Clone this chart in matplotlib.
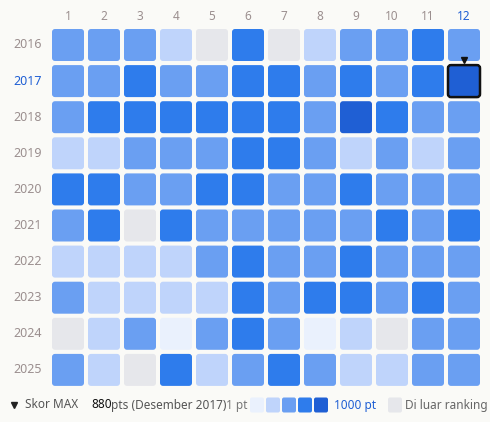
import matplotlib.pyplot as plt
from matplotlib.patches import FancyBboxPatch

plt.rcParams['font.family'] = ['Source Sans Pro', 'Noto Sans', 'DejaVu Sans']

years = [2016, 2017, 2018, 2019, 2020, 2021, 2022, 2023, 2024, 2025]
months = list(range(1, 13))
# level 0 = di luar ranking, 1..5 = skor bins
levels = [
    [3, 3, 3, 2, 0, 4, 0, 2, 3, 3, 4, 3],
    [3, 3, 4, 3, 3, 4, 4, 3, 4, 3, 4, 5],
    [3, 4, 4, 4, 4, 4, 4, 3, 5, 4, 3, 3],
    [2, 2, 3, 3, 3, 4, 4, 3, 2, 3, 2, 3],
    [4, 4, 3, 3, 4, 4, 3, 3, 4, 3, 3, 3],
    [3, 4, 0, 4, 3, 3, 3, 3, 3, 4, 3, 4],
    [2, 2, 2, 2, 3, 4, 3, 3, 4, 3, 3, 3],
    [3, 2, 2, 2, 2, 4, 3, 4, 4, 3, 4, 3],
    [0, 2, 3, 1, 3, 4, 3, 1, 2, 0, 3, 3],
    [3, 2, 0, 4, 2, 3, 4, 3, 2, 2, 3, 3],
]
max_year, max_month = 2017, 12
palette = ['#e6e7eb', '#eaf1fd', '#bfd4fb', '#6a9ff2', '#2e7cec', '#1f5fd4']

bg = '#fafaf7'
fig = plt.figure(figsize=(4.9, 4.22), dpi=100, facecolor=bg)
ax = fig.add_axes([0, 0, 1, 1])
ax.set_xlim(0, 490)
ax.set_ylim(422, 0)
ax.axis('off')

x0, y0, pitch, size = 68, 45, 36, 32
for i, yr in enumerate(years):
    cy = y0 + i * 36.1
    hl = yr == max_year
    ax.text(42, cy, str(yr), ha='right', va='center', fontsize=9,
            color='#1f5fd4' if hl else '#9b8f8f', fontweight='bold' if hl else 'normal')
    for j, m in enumerate(months):
        cx = x0 + j * pitch
        lw, ec = 0, 'none'
        if yr == max_year and m == max_month:
            lw, ec = 1.8, '#111111'
        ax.add_patch(FancyBboxPatch((cx - size / 2 + 3, cy - size / 2 + 3), size - 6, size - 6,
                                    boxstyle='round,pad=3', fc=palette[levels[i][j]],
                                    ec=ec, lw=lw))
for j, m in enumerate(months):
    hl = m == max_month
    ax.text(x0 + j * pitch, 17, str(m), ha='center', va='center', fontsize=8.5,
            color='#1f5fd4' if hl else '#9b8f8f', fontweight='bold' if hl else 'normal')

# marker above max cell
mx = x0 + (max_month - 1) * pitch
ax.plot(mx, 60, marker='v', color='#111111', ms=5)

# legend
ly = 405
ax.plot(14, ly, marker='v', color='#222222', ms=4.5)
ax.text(25, ly, 'Skor MAX ', ha='left', va='center', fontsize=8.5, color='#555555')
ax.text(91, ly, '880', ha='left', va='center', fontsize=8.5, color='#111111', fontweight='bold')
ax.text(111, ly, 'pts (Desember 2017)', ha='left', va='center', fontsize=8.5, color='#555555')
ax.text(226, ly, '1 pt', ha='left', va='center', fontsize=8.5, color='#777777')
for k in range(1, 6):
    bx = 250 + (k - 1) * 16
    ax.add_patch(FancyBboxPatch((bx + 2, ly - 5.5), 10, 11, boxstyle='round,pad=2',
                                fc=palette[k], ec='none'))
ax.text(334, ly, '1000 pt', ha='left', va='center', fontsize=8.5, color='#1f5fd4',
        fontweight='bold')
ax.add_patch(FancyBboxPatch((390, ly - 5.5), 10, 11, boxstyle='round,pad=2',
                            fc=palette[0], ec='none'))
ax.text(405, ly, 'Di luar ranking', ha='left', va='center', fontsize=8.5, color='#666666')

fig.savefig('out.png', dpi=100, facecolor=bg)
